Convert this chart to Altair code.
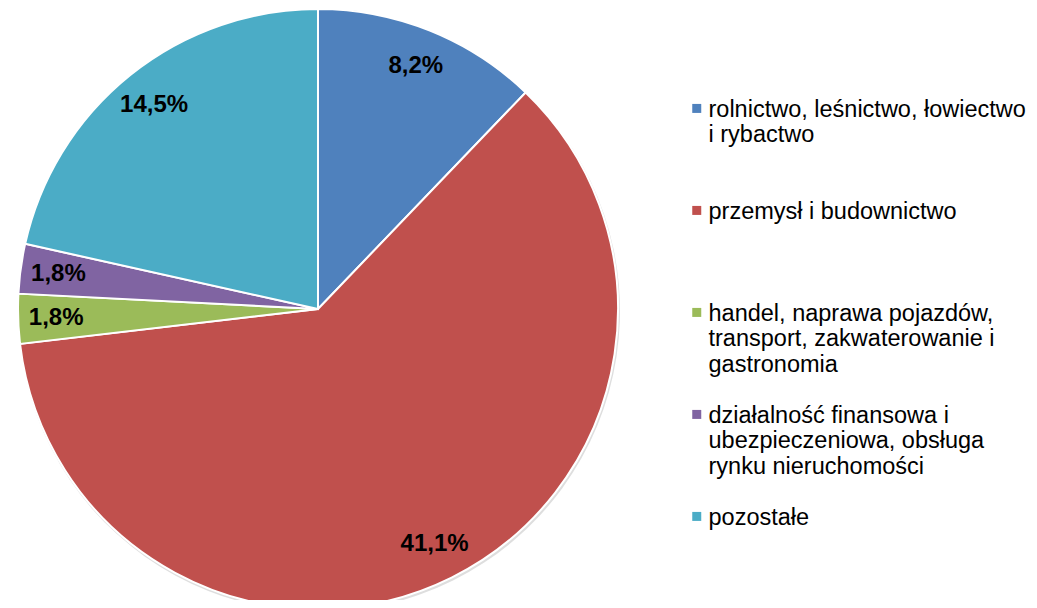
import altair as alt
import pandas as pd

categories = [
    "rolnictwo, leśnictwo, łowiectwo i rybactwo",
    "przemysł i budownictwo",
    "handel, naprawa pojazdów, transport, zakwaterowanie i gastronomia",
    "działalność finansowa i ubezpieczeniowa, obsługa rynku nieruchomości",
    "pozostałe",
]
legend_lines = [
    ["rolnictwo, leśnictwo, łowiectwo", "i rybactwo"],
    ["przemysł i budownictwo"],
    ["handel, naprawa pojazdów,", "transport, zakwaterowanie i", "gastronomia"],
    ["działalność finansowa i", "ubezpieczeniowa, obsługa", "rynku nieruchomości"],
    ["pozostałe"],
]
values = [8.2, 41.1, 1.8, 1.8, 14.5]
labels = ["8,2%", "41,1%", "1,8%", "1,8%", "14,5%"]
colors = ["#4F81BD", "#C0504D", "#9BBB59", "#8064A2", "#4BACC6"]

df = pd.DataFrame({
    "category": categories,
    "value": values,
    "label": labels,
    "order": list(range(len(categories))),
})

def arr(lines):
    return "[" + ", ".join("'" + l.replace("'", "\\'") + "'" for l in lines) + "]"

expr = ""
for cat, lines in zip(categories, legend_lines):
    expr += "datum.label == '" + cat + "' ? " + arr(lines) + " : "
expr += "datum.label"

FONT = "Liberation Sans"
CX, CY = 310, 301

base = alt.Chart(df).encode(
    theta=alt.Theta("value:Q", stack=True),
    order=alt.Order("order:Q"),
)

shadow = base.mark_arc(outerRadius=301, color="#c8c8c8", opacity=0.6).encode(
    x=alt.value(CX + 1),
    y=alt.value(CY + 2),
)

pie = base.mark_arc(outerRadius=300, stroke="white", strokeWidth=2).encode(
    x=alt.value(CX),
    y=alt.value(CY),
    color=alt.Color(
        "category:N",
        scale=alt.Scale(domain=categories, range=colors),
        sort=categories,
        legend=alt.Legend(
            title=None,
            orient="none",
            legendX=677,
            legendY=97,
            symbolType="M-1,-2.85H1V-0.85H-1Z",
            symbolSize=81,
            symbolStrokeWidth=0,
            labelFont=FONT,
            labelFontSize=23.5,
            labelColor="#000000",
            labelLimit=600,
            labelOffset=0,
            labelBaseline="alphabetic",
            rowPadding=26,
            gridAlign="all",
            padding=0,
            labelExpr=expr,
        ),
    ),
)

text = base.mark_text(
    radius=262, font=FONT, fontSize=24, fontWeight="bold", color="black"
).encode(
    x=alt.value(CX),
    y=alt.value(CY),
    text="label:N",
)

chart = (shadow + pie + text).properties(
    width=1021,
    height=592,
    autosize=alt.AutoSizeParams(type="none"),
    padding=0,
).configure_view(stroke=None)

chart.save("out.html", embed_options={"renderer": "svg", "actions": False})
